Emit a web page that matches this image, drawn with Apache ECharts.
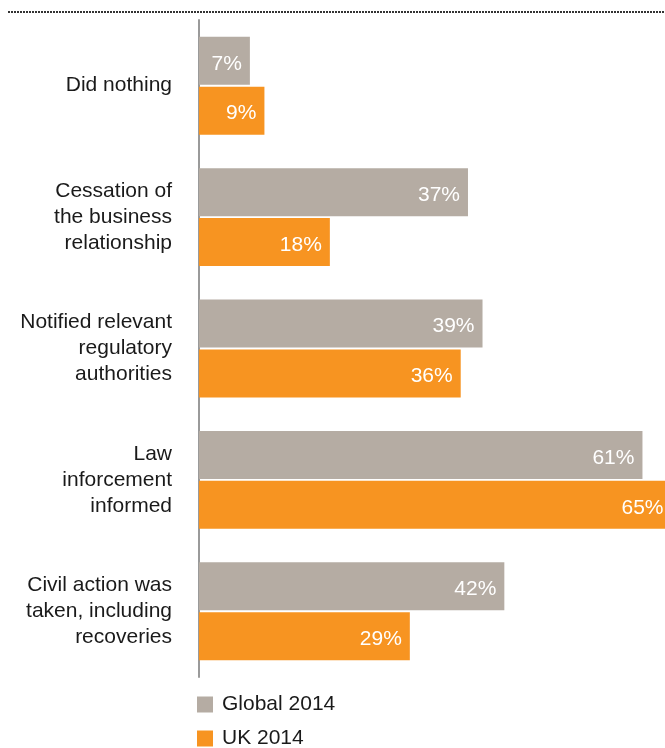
<!DOCTYPE html>
<html>
<head>
<meta charset="utf-8">
<script src="https://cdn.jsdelivr.net/npm/echarts@6/dist/echarts.min.js"></script>
<style>
  html, body { margin: 0; padding: 0; background: #fff; }
  #chart { width: 665px; height: 748px; }
</style>
</head>
<body>
<div id="chart"></div>
<script>
// Responses taken after fraud was detected
const categories = [
  'Did nothing',
  'Cessation of\nthe business\nrelationship',
  'Notified relevant\nregulatory\nauthorities',
  'Law\ninforcement\ninformed',
  'Civil action was\ntaken, including\nrecoveries'
];
const seriesNames = ['Global 2014', 'UK 2014'];
const global2014 = [7, 37, 39, 61, 42];
const uk2014 = [9, 18, 36, 65, 29];

const FONT = '"Liberation Sans", Arial, Helvetica, sans-serif';
const GREY = '#b5aca3';
const ORANGE = '#f79421';

const chart = echarts.init(document.getElementById('chart'), null, { renderer: 'canvas' });

const valueLabel = {
  show: true,
  position: 'insideRight',
  distance: 8,
  offset: [0, 3],
  color: '#fff',
  fontFamily: FONT,
  fontSize: 21,
  formatter: p => p.value + '%'
};

const legendText = { color: '#1a1a1a', fontFamily: FONT, fontSize: 21, padding: [8, 0, 0, 4] };

chart.setOption({
  animation: false,
  textStyle: { fontFamily: FONT },
  grid: { left: 199, top: 20, bottom: 71, right: 0, containLabel: false },
  xAxis: {
    type: 'value',
    min: 0,
    max: 64.1,
    show: false
  },
  yAxis: {
    type: 'category',
    data: categories,
    inverse: true,
    axisLine: { show: true, lineStyle: { color: '#9a9a9a', width: 2 } },
    axisTick: { show: false },
    splitLine: { show: false },
    axisLabel: {
      margin: 27,
      color: '#1a1a1a',
      fontFamily: FONT,
      fontSize: 21,
      lineHeight: 26,
      align: 'right'
    }
  },
  legend: [
    {
      left: 197, top: 694, padding: 0,
      icon: 'rect', itemWidth: 16, itemHeight: 16,
      textStyle: legendText,
      data: [seriesNames[0]]
    },
    {
      left: 197, top: 728, padding: 0,
      icon: 'rect', itemWidth: 16, itemHeight: 16,
      textStyle: legendText,
      data: [seriesNames[1]]
    }
  ],
  graphic: [{
    type: 'line',
    shape: { x1: 8, y1: 12, x2: 665, y2: 12 },
    style: { stroke: '#333', lineWidth: 2, lineDash: [2, 1] }
  }],
  series: [
    {
      name: seriesNames[0],
      type: 'bar',
      data: global2014,
      barWidth: 48,
      barGap: '4%',
      clip: false,
      itemStyle: { color: GREY },
      label: valueLabel
    },
    {
      name: seriesNames[1],
      type: 'bar',
      data: uk2014,
      barWidth: 48,
      clip: false,
      itemStyle: { color: ORANGE },
      label: valueLabel
    }
  ]
});
</script>
</body>
</html>
